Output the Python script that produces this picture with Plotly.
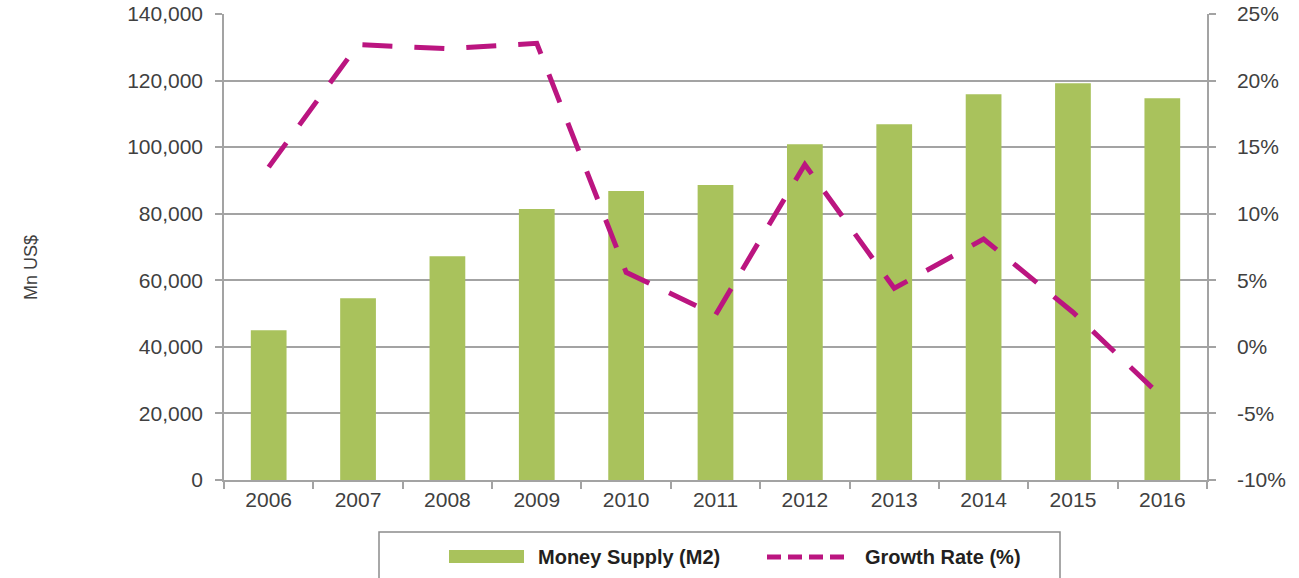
import plotly.graph_objects as go

years = ["2006", "2007", "2008", "2009", "2010", "2011", "2012", "2013", "2014", "2015", "2016"]
money_supply = [45000, 54600, 67200, 81400, 86800, 88600, 100900, 106900, 115900, 119200, 114700]
growth_rate = [13.5, 22.7, 22.4, 22.8, 5.6, 2.4, 13.7, 4.4, 8.1, 2.6, -3.8]
left_ticks = [0, 20000, 40000, 60000, 80000, 100000, 120000, 140000]
left_labels = ["0", "20,000", "40,000", "60,000", "80,000", "100,000", "120,000", "140,000"]
right_ticks = [-10, -5, 0, 5, 10, 15, 20, 25]
right_labels = ["-10%", "-5%", "0%", "5%", "10%", "15%", "20%", "25%"]

GREEN = "#a9c25c"
MAGENTA = "#bb1580"
GRID = "#a3a3a3"
TXT = "#404040"

fig = go.Figure()
fig.add_trace(go.Bar(x=years, y=money_supply, name="Money Supply (M2)",
                     marker=dict(color=GREEN, line=dict(width=0)), yaxis="y"))
fig.add_trace(go.Scatter(x=years, y=growth_rate, name="Growth Rate (%)", mode="lines",
                         line=dict(color=MAGENTA, width=5, dash="30px,22px"), yaxis="y2"))

tick_font = dict(family="Liberation Sans, Arial, sans-serif", size=21, color=TXT)

fig.update_layout(
    width=1299, height=578,
    margin=dict(l=224, r=92, t=14, b=98, autoexpand=False),
    paper_bgcolor="white", plot_bgcolor="white",
    showlegend=False,
    bargap=0.6,
    xaxis=dict(type="category", tickson="boundaries", ticks="outside", ticklen=7,
               tickcolor=GRID, tickwidth=1.5, showline=True, linecolor=GRID, linewidth=1.5,
               showgrid=False, tickfont=tick_font, automargin=False),
    yaxis=dict(range=[0, 140000], tickvals=left_ticks, ticktext=left_labels, showgrid=True,
               gridcolor=GRID, gridwidth=1.5, showline=True, linecolor=GRID, linewidth=1.5,
               ticks="outside", ticklen=7, tickcolor=GRID, tickwidth=1.5,
               ticklabelstandoff=8, tickfont=tick_font, zeroline=False, automargin=False),
    yaxis2=dict(range=[-10, 25], tickvals=right_ticks, ticktext=right_labels, overlaying="y", side="right",
                showgrid=False, showline=True, linecolor=GRID, linewidth=1.5,
                ticks="outside", ticklen=7, tickcolor=GRID, tickwidth=1.5,
                ticklabelstandoff=17, tickfont=tick_font, zeroline=False, automargin=False),
)

W, H = 983.0, 466.0
def px_x(px):
    return (px - 224) / W
def px_y(py):
    return (480 - py) / H

# y-axis title
fig.add_annotation(text="Mn US$", xref="paper", yref="paper", x=px_x(19), y=px_y(268),
                   showarrow=False, textangle=-90,
                   font=dict(family="Liberation Sans, Arial, sans-serif", size=18, color=TXT))

# custom legend
fig.add_shape(type="rect", xref="paper", yref="paper",
              x0=px_x(379), x1=px_x(1060), y0=px_y(600), y1=px_y(532),
              line=dict(color="#8c8c8c", width=1.5), fillcolor="rgba(0,0,0,0)")
fig.add_shape(type="rect", xref="paper", yref="paper",
              x0=px_x(449), x1=px_x(524), y0=px_y(563), y1=px_y(550),
              line=dict(width=0), fillcolor=GREEN)
fig.add_shape(type="line", xref="paper", yref="paper",
              x0=px_x(767), x1=px_x(848), y0=px_y(557), y1=px_y(557),
              line=dict(color=MAGENTA, width=5, dash="14px,7px"))
leg_font = dict(family="Liberation Sans Narrow, Arial Narrow, Liberation Sans, sans-serif", size=20, color="#231f20")
fig.add_annotation(text="<b>Money Supply (M2)</b>", xref="paper", yref="paper",
                   x=px_x(536), y=px_y(557), xanchor="left", yanchor="middle",
                   showarrow=False, font=leg_font)
fig.add_annotation(text="<b>Growth Rate (%)</b>", xref="paper", yref="paper",
                   x=px_x(863), y=px_y(557), xanchor="left", yanchor="middle",
                   showarrow=False, font=leg_font)

fig.write_html("out.html", config={"displayModeBar": False},
               post_script="document.body.style.margin='0';document.body.style.overflow='hidden';")
